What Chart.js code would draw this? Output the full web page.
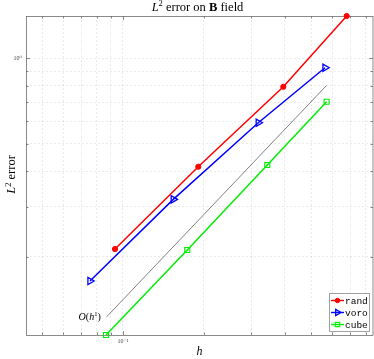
<!DOCTYPE html>
<html>
<head>
<meta charset="utf-8">
<script src="https://cdn.jsdelivr.net/npm/chart.js@4/dist/chart.umd.min.js"></script>
<style>
  html, body { margin: 0; padding: 0; background: #fff; }
  #wrap { width: 374px; height: 359px; position: relative; }
</style>
</head>
<body>
<div id="wrap"><canvas id="c" width="374" height="359"></canvas></div>
<script>
// ---- data ----
const seriesNames = ['rand', 'voro', 'cube'];
const hRand = [0.0934, 0.1905, 0.3945, 0.6786];
const errRand = [0.2126, 0.4143, 0.7923, 1.406];
const hVoro = [0.0754, 0.1538, 0.3184, 0.5637];
const errVoro = [0.164, 0.318, 0.592, 0.924];
const hCube = [0.0865, 0.1734, 0.3439, 0.5715];
const errCube = [0.1059, 0.2109, 0.4201, 0.7016];
const hRef = [0.087, 0.5715];
const errRef = [0.1228, 0.801];
const xTickValues = [0.05, 0.06, 0.07, 0.08, 0.09, 0.1, 0.2, 0.3, 0.4, 0.5, 0.6, 0.7, 0.8];
const yTickValues = [0.2, 0.3, 0.4, 0.5, 0.6, 0.7, 0.8, 0.9, 1];
const xLabelMap = { '0.1': '10\u207B\u00B9' };
const yLabelMap = { '1': '10\u2070' };
const xRange = [0.0436, 0.85];
const yRange = [0.1059, 1.406];

const pts = (xs, ys) => xs.map((x, i) => ({ x: x, y: ys[i] }));
const SERIF = '"Liberation Serif", "DejaVu Serif", serif';
const MONO = '"Liberation Mono", "DejaVu Sans Mono", monospace';
const AXIS_COLOR = '#6e6e6e';

function drawRich(ctx, parts, x, y, align) {
  let w = 0;
  parts.forEach(p => { ctx.font = p.font; w += ctx.measureText(p.t).width; });
  let cx = align === 'center' ? x - w / 2 : (align === 'right' ? x - w : x);
  ctx.textAlign = 'left';
  parts.forEach(p => {
    ctx.font = p.font;
    ctx.fillText(p.t, cx, y + (p.dy || 0));
    cx += ctx.measureText(p.t).width;
  });
}

const decor = {
  id: 'decor',
  beforeDatasetsDraw(chart) {
    const { ctx, chartArea: a, scales } = chart;
    ctx.save();
    ctx.strokeStyle = AXIS_COLOR;
    ctx.lineWidth = 0.8;
    ctx.strokeRect(a.left + 0.5, a.top + 0.5, a.right - a.left - 0.5, a.bottom - a.top);
    // inner tick marks (box on)
    scales.x.ticks.forEach(t => {
      const px = Math.round(scales.x.getPixelForValue(t.value)) + 0.5;
      const len = t.value === 0.1 ? 4 : 2.5;
      ctx.beginPath();
      ctx.moveTo(px, a.bottom); ctx.lineTo(px, a.bottom - len);
      ctx.moveTo(px, a.top); ctx.lineTo(px, a.top + len);
      ctx.stroke();
    });
    scales.y.ticks.forEach(t => {
      const py = Math.round(scales.y.getPixelForValue(t.value)) + 0.5;
      const len = t.value === 1 ? 4 : 2.5;
      ctx.beginPath();
      ctx.moveTo(a.left, py); ctx.lineTo(a.left + len, py);
      ctx.moveTo(a.right, py); ctx.lineTo(a.right - len, py);
      ctx.stroke();
    });
    ctx.restore();
  },
  afterDraw(chart) {
    const { ctx, chartArea: a, scales } = chart;
    ctx.save();
    ctx.fillStyle = '#000';
    ctx.textBaseline = 'alphabetic';
    // title
    drawRich(ctx, [
      { t: 'L', font: 'italic 12.5px ' + SERIF },
      { t: '2', font: '8.5px ' + SERIF, dy: -4.5 },
      { t: ' error on ', font: '12.5px ' + SERIF },
      { t: 'B', font: 'bold 12.5px ' + SERIF },
      { t: ' field', font: '12.5px ' + SERIF }
    ], (a.left + a.right) / 2 - 2, 10.5, 'center');
    // x label
    drawRich(ctx, [{ t: 'h', font: 'italic 12px ' + SERIF }], (a.left + a.right) / 2, 355, 'center');
    // y label
    ctx.save();
    ctx.translate(15, (a.top + a.bottom) / 2 - 1);
    ctx.rotate(-Math.PI / 2);
    drawRich(ctx, [
      { t: 'L', font: 'italic 12.5px ' + SERIF },
      { t: '2', font: '8.5px ' + SERIF, dy: -4.5 },
      { t: ' error', font: '12.5px ' + SERIF }
    ], 0, 0, 'center');
    ctx.restore();
    // O(h^1) label next to reference line start
    const rx = scales.x.getPixelForValue(hRef[0]);
    const ry = scales.y.getPixelForValue(errRef[0]);
    drawRich(ctx, [
      { t: 'O', font: 'italic 10px ' + SERIF },
      { t: '(', font: '10px ' + SERIF },
      { t: 'h', font: 'italic 10px ' + SERIF },
      { t: '1', font: '6.5px ' + SERIF, dy: -4 },
      { t: ')', font: '10px ' + SERIF }
    ], rx - 6, ry + 3, 'right');
    // legend
    const lx = 329, ly = 293, lw = 40, lh = 38;
    ctx.fillStyle = '#fff';
    ctx.fillRect(lx, ly, lw, lh);
    ctx.strokeStyle = '#8a8a8a';
    ctx.lineWidth = 0.8;
    ctx.strokeRect(lx + 0.5, ly + 0.5, lw, lh);
    const legendSets = chart.data.datasets.filter(d => seriesNames.includes(d.label));
    legendSets.forEach((d, i) => {
      const yy = ly + 7.5 + i * 12;
      ctx.strokeStyle = d.borderColor;
      ctx.lineWidth = 1.4;
      ctx.beginPath();
      ctx.moveTo(lx + 2, yy); ctx.lineTo(lx + 15, yy);
      ctx.stroke();
      ctx.fillStyle = d.pointBackgroundColor;
      ctx.strokeStyle = d.pointBorderColor;
      ctx.lineWidth = d.pointBorderWidth;
      Chart.helpers.drawPoint(ctx, {
        pointStyle: d.pointStyle, rotation: d.pointRotation || 0,
        radius: d.pointRadius * 0.85, borderWidth: d.pointBorderWidth
      }, lx + 8.5, yy);
      ctx.fillStyle = '#000';
      ctx.font = '9.5px ' + MONO;
      ctx.textBaseline = 'middle';
      ctx.textAlign = 'left';
      ctx.fillText(d.label, lx + 16, yy + 0.5);
    });
    ctx.restore();
  }
};

const datasets = [
  {
    label: 'ref', data: pts(hRef, errRef), borderColor: '#4a4a4a', borderWidth: 0.7,
    pointRadius: 0, showLine: true, clip: false
  },
  {
    label: seriesNames[0], data: pts(hRand, errRand), borderColor: '#ff0000', backgroundColor: '#ff0000',
    borderWidth: 1.5, pointStyle: 'circle', pointRadius: 2.6, pointBorderWidth: 1,
    pointBackgroundColor: '#ff0000', pointBorderColor: '#ff0000', showLine: true, clip: false
  },
  {
    label: seriesNames[1], data: pts(hVoro, errVoro), borderColor: '#0000ff', backgroundColor: 'rgba(0,0,0,0)',
    borderWidth: 1.5, pointStyle: 'triangle', pointRotation: 90, pointRadius: 4.2, pointBorderWidth: 1.3,
    pointBackgroundColor: 'rgba(0,0,0,0)', pointBorderColor: '#0000ff', showLine: true, clip: false
  },
  {
    label: seriesNames[2], data: pts(hCube, errCube), borderColor: '#00ee00', backgroundColor: 'rgba(0,0,0,0)',
    borderWidth: 1.5, pointStyle: 'rect', pointRadius: 3.6, pointBorderWidth: 1.1,
    pointBackgroundColor: 'rgba(0,0,0,0)', pointBorderColor: '#00ee00', showLine: true, clip: false
  }
];

const gridOpts = { color: 'rgba(0,0,0,0.12)', lineWidth: 0.7, drawTicks: false };
const borderOpts = { display: false, color: AXIS_COLOR, width: 0.8, dash: [2, 2] };

new Chart(document.getElementById('c'), {
  type: 'scatter',
  data: { datasets: datasets },
  options: {
    responsive: false,
    animation: false,
    devicePixelRatio: 1,
    layout: { autoPadding: false, padding: { top: 16, right: 1, left: 0, bottom: 0 } },
    plugins: { legend: { display: false }, tooltip: { enabled: false }, title: { display: false } },
    scales: {
      x: {
        type: 'logarithmic', min: xRange[0], max: xRange[1],
        afterBuildTicks: s => { s.ticks = xTickValues.map(v => ({ value: v })); },
        afterFit: s => { s.height = 24; s.paddingLeft = 0; s.paddingRight = 0; },
        grid: gridOpts,
        border: borderOpts,
        ticks: {
          autoSkip: false, maxRotation: 0, padding: 3,
          font: { family: SERIF, size: 6 }, color: '#444',
          callback: (v) => xLabelMap[String(Math.round(v * 1000) / 1000)] || ''
        }
      },
      y: {
        type: 'logarithmic', min: yRange[0], max: yRange[1],
        afterBuildTicks: s => { s.ticks = yTickValues.map(v => ({ value: v })); },
        afterFit: s => { s.width = 26; s.paddingTop = 0; s.paddingBottom = 0; },
        grid: gridOpts,
        border: borderOpts,
        ticks: {
          autoSkip: false, padding: 4,
          font: { family: SERIF, size: 6 }, color: '#444',
          callback: (v) => yLabelMap[String(Math.round(v * 1000) / 1000)] || ''
        }
      }
    }
  },
  plugins: [decor]
});
</script>
</body>
</html>
